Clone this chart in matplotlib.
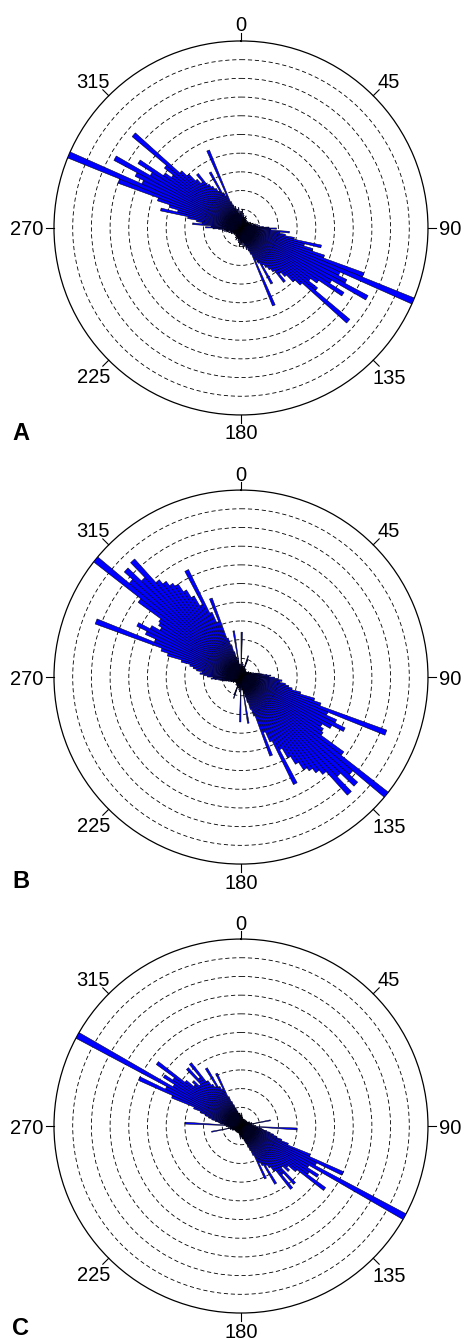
import numpy as np
import matplotlib
matplotlib.use("Agg")
import matplotlib.pyplot as plt

plt.rcParams['font.family'] = ['Liberation Sans', 'DejaVu Sans']
plt.rcParams['lines.scale_dashes'] = False

# 2-degree bins over 0-180 (axial data, mirrored to 180-360)
bin_centers = np.arange(1, 180, 2)

# relative frequency (fraction of the longest petal)
rose_a = [
    .09, .07, .10, .06, .08, .05, .07, .06, .04, .06,
    .05, .07, .04, .05, .06, .04, .05, .03, .05, .04,
    .04, .05, .03, .04, .05, .04, .03, .05, .04, .06,
    .05, .04, .06, .05, .07, .05, .06, .08, .06, .09,
    .08, .10, .09, .12, .15, .19, .16, .26, .21, .24,
    .29, .44, .35, .40, .47, .70, 1.0, .58, .63, .77,
    .56, .65, .50, .46, .52, .76, .44, .40, .35, .32,
    .37, .29, .27, .25, .23, .34, .21, .19, .45, .15,
    .13, .11, .12, .09, .10, .08, .11, .07, .09, .08,
]
rose_b = [
    .24, .06, .08, .05, .07, .05, .06, .04, .05, .12,
    .10, .05, .04, .05, .03, .04, .05, .03, .04, .03,
    .04, .03, .04, .03, .04, .03, .04, .05, .04, .05,
    .04, .05, .06, .05, .06, .07, .06, .08, .09, .10,
    .11, .12, .14, .16, .15, .18, .20, .22, .21, .24,
    .26, .28, .33, .41, .45, .83, .50, .56, .62, .55,
    .50, .52, .53, .68, 1.0, .78, .84, .74, .85, .68,
    .65, .62, .60, .55, .50, .44, .64, .38, .32, .45,
    .22, .18, .14, .11, .09, .25, .07, .06, .05, .07,
]
rose_c = [
    .07, .05, .06, .04, .05, .04, .03, .04, .03, .04,
    .03, .04, .03, .03, .04, .03, .03, .04, .03, .03,
    .04, .03, .03, .04, .03, .04, .03, .04, .03, .04,
    .04, .05, .04, .05, .04, .05, .06, .05, .06, .16,
    .05, .06, .07, .06, .08, .07, .30, .09, .11, .12,
    .14, .16, .18, .20, .23, .27, .40, .60, .45, 1.0,
    .42, .49, .44, .56, .38, .33, .35, .31, .42, .34,
    .43, .30, .27, .25, .36, .24, .22, .31, .17, .14,
    .12, .10, .09, .08, .07, .06, .07, .05, .06, .05,
]

panels = ['A', 'B', 'C']
angle_ticks = [0, 45, 90, 135, 180, 225, 270, 315]
# distance (px) from the rim to each label's centre
label_gap_px = [17, 22, 22.5, 22.5, 17, 21, 27.5, 22]
ring_levels = np.arange(0.1, 1.0, 0.1)
radius_px = 187.0

fig = plt.figure(figsize=(4.65, 13.39), dpi=100)

# axes boxes (figure fraction): centre x=241px, radius ~187px
boxes = [
    [0.1161, 0.6901, 0.8043, 0.2793],
    [0.1161, 0.3547, 0.8043, 0.2793],
    [0.1161, 0.0194, 0.8043, 0.2793],
]
letter_y = [0.6714, 0.3368, 0.003]

for data, box, name, ly in zip([rose_a, rose_b, rose_c], boxes, panels, letter_y):
    ax = fig.add_axes(box, projection='polar')
    ax.set_theta_zero_location('N')
    ax.set_theta_direction(-1)

    vals = np.array(data)
    theta = np.deg2rad(np.concatenate([bin_centers, bin_centers + 180]))
    r = np.concatenate([vals, vals])
    ax.bar(theta, r, width=np.deg2rad(2), bottom=0,
           color='#0000ff', edgecolor='black', linewidth=0.35, zorder=3)

    ax.set_yticks(ring_levels)
    ax.set_yticklabels([])
    ax.yaxis.grid(True, color='black', linestyle=(0, (3, 2)), linewidth=0.6)
    ax.xaxis.grid(False)
    ax.set_xticks(np.deg2rad(angle_ticks))
    ax.set_xticklabels([])
    ax.tick_params(axis='x', length=0)
    ax.spines['polar'].set_linewidth(0.9)

    # short outward tick marks and labels at the labelled angles
    for a, gap in zip(angle_ticks, label_gap_px):
        t = np.deg2rad(a)
        ax.plot([t, t], [1.0, 1.045], color='black', linewidth=0.8,
                clip_on=False, zorder=4)
        ax.text(t, 1 + gap / radius_px, str(a), fontsize=14.5,
                ha='center', va='center_baseline', clip_on=False)
    ax.set_ylim(0, 1.0)

    fig.text(0.026, ly, name, fontsize=17, fontweight='bold', va='baseline')

fig.savefig('out.png', dpi=100)
